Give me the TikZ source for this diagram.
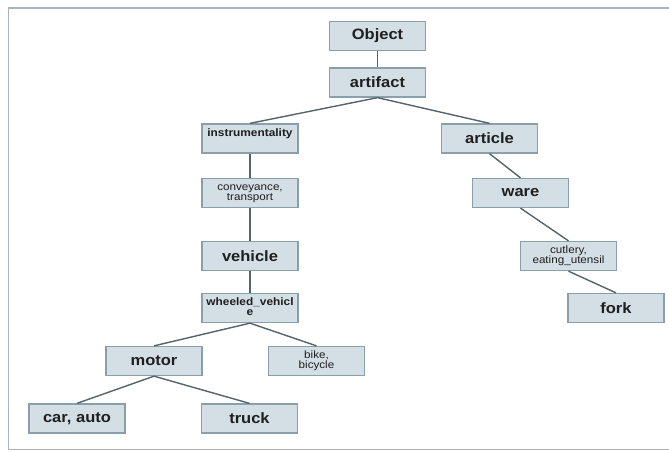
\documentclass[tikz,border=0pt]{standalone}
\usepackage{fontspec}
\usepackage{graphicx}
\setmainfont{Liberation Sans}
\definecolor{boxfill}{HTML}{D4DEE5}
\definecolor{boxline}{HTML}{8A9FAC}
\definecolor{edgecol}{HTML}{56646A}
\definecolor{framecol}{HTML}{A9B4B8}
\newcommand{\sx}[1]{\scalebox{1.1}[1]{#1}}
\newcommand{\biglab}[1]{\sx{\fontsize{15}{16}\selectfont\bfseries #1}}
\newcommand{\smb}[1]{\sx{\fontsize{10.8}{12.5}\selectfont\bfseries #1}}
\newcommand{\twol}[2]{\sx{\fontsize{10.6}{12.5}\selectfont\begin{tabular}{@{}c@{}}#1\\[-2.2pt]#2\end{tabular}}}
\tikzset{
  box/.style={draw=boxline, fill=boxfill, line width=1.3pt, minimum width=96pt, minimum height=29pt, inner sep=0pt, text=black!88},
  edge/.style={draw=edgecol, line width=1.4pt},
  frameline/.style={draw=framecol, line width=1.5pt}
}
\begin{document}
\begin{tikzpicture}[x=1pt,y=-1pt]
\useasboundingbox (0,0) rectangle (669,451);
\fill[white] (0,0) rectangle (669,451);
\draw[frameline] (675,8) -- (8.5,8) -- (8.5,449.5) -- (675,449.5);
% nodes
\node[box] (obj) at (377.5,36) {\biglab{Object}};
\node[box] (art) at (377.5,82.5) {\biglab{artifact}};
\node[box] (inst) at (250,138.5) {\raisebox{5pt}[\height][\depth]{\smb{instrumentality}}};
\node[box] (arti) at (489.5,138.5) {\biglab{article}};
\node[box] (conv) at (250,193) {\twol{conveyance,}{transport}};
\node[box] (ware) at (520.5,193) {\biglab{ware}};
\node[box] (veh) at (250,256) {\biglab{vehicle}};
\node[box] (cut) at (568.5,256) {\twol{cutlery,}{eating\_utensil}};
\node[box] (wheel) at (250,308) {\sx{\fontsize{10.8}{12.5}\selectfont\bfseries\begin{tabular}{@{}c@{}}wheeled\_vehicl\\[-2.2pt]e\end{tabular}}};
\node[box] (fork) at (616,308) {\biglab{fork}};
\node[box] (motor) at (154,361) {\biglab{motor}};
\node[box] (bike) at (316.5,361) {\twol{bike,}{bicycle}};
\node[box] (car) at (77,418.5) {\biglab{car, auto}};
\node[box] (truck) at (249.5,418.5) {\biglab{truck}};
% edges
\draw[edge] (obj.south) -- (art.north);
\draw[edge] (art.south) -- (inst.north);
\draw[edge] (art.south) -- (arti.north);
\draw[edge] (inst.south) -- (conv.north);
\draw[edge] (conv.south) -- (veh.north);
\draw[edge] (veh.south) -- (wheel.north);
\draw[edge] (wheel.south) -- (motor.north);
\draw[edge] (wheel.south) -- (bike.north);
\draw[edge] (motor.south) -- (car.north);
\draw[edge] (motor.south) -- (truck.north);
\draw[edge] (arti.south) -- (ware.north);
\draw[edge] (ware.south) -- (cut.north);
\draw[edge] (cut.south) -- (fork.north);
\end{tikzpicture}
\end{document}
